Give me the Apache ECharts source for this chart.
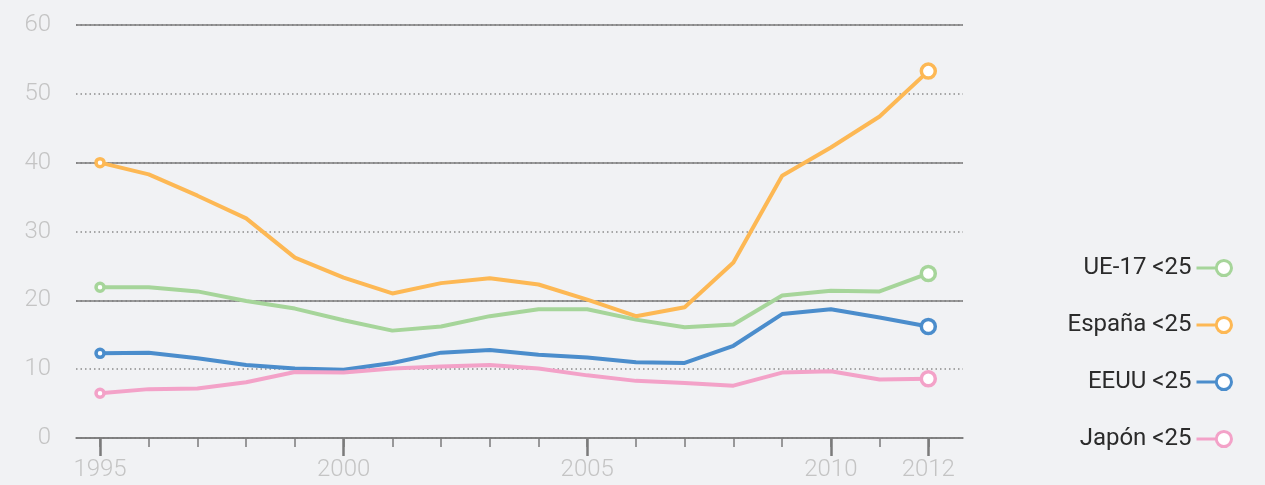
<!DOCTYPE html>
<html>
<head>
<meta charset="utf-8">
<script src="https://cdn.jsdelivr.net/npm/echarts@6/dist/echarts.min.js"></script>
<style>
  html, body { margin: 0; padding: 0; background: #f1f2f4; }
  #chart { width: 1265px; height: 485px; }
</style>
</head>
<body>
<div id="chart"></div>
<script>
// paro juvenil (<25), %
const years = [1995, 1996, 1997, 1998, 1999, 2000, 2001, 2002, 2003, 2004, 2005, 2006, 2007, 2008, 2009, 2010, 2011, 2012];
const yearLabels = [1995, 2000, 2005, 2010, 2012];
const seriesNames = ['UE-17 <25', 'España <25', 'EEUU <25', 'Japón <25'];

const ue17   = [21.9, 21.9, 21.3, 19.9, 18.8, 17.1, 15.6, 16.2, 17.7, 18.7, 18.7, 17.2, 16.1, 16.5, 20.7, 21.4, 21.3, 23.9];
const espana = [40.0, 38.3, 35.2, 31.9, 26.2, 23.3, 21.0, 22.5, 23.2, 22.3, 20.1, 17.7, 19.0, 25.5, 38.1, 42.2, 46.7, 53.3];
const eeuu   = [12.3, 12.4, 11.6, 10.6, 10.1,  9.9, 10.9, 12.4, 12.8, 12.1, 11.7, 11.0, 10.9, 13.4, 18.0, 18.7, 17.5, 16.2];
const japon  = [ 6.5,  7.1,  7.2,  8.1,  9.6,  9.5, 10.1, 10.4, 10.6, 10.1,  9.1,  8.3,  8.0,  7.6,  9.5,  9.7,  8.5,  8.6];

const colors = ['#a6d59a', '#fdb854', '#4b8dcc', '#f3a2c8'];

const chart = echarts.init(document.getElementById('chart'));

const lastIdx = years.length - 1;
function makeSeries(name, values, color) {
  return {
    name: name,
    type: 'line',
    xAxisIndex: 0,
    yAxisIndex: 0,
    data: values.map((v, i) => [years[i], v]),
    symbol: 'circle',
    showAllSymbol: true,
    symbolSize: (val, p) => p.dataIndex === 0 ? 8 : (p.dataIndex === lastIdx ? 14 : 0),
    lineStyle: { color: color, width: 4 },
    itemStyle: { color: '#ffffff', borderColor: color, borderWidth: 3.5 },
    emphasis: { disabled: true },
    animation: false
  };
}

const axisGray = '#7b7b7b';
const labelFont = { fontFamily: 'Roboto', fontWeight: 300, fontSize: 24, color: '#c4c4c4' };

const option = {
  backgroundColor: '#f1f2f4',
  animation: false,
  grid: { left: 76, right: 302, top: 25, bottom: 47 },
  xAxis: [
    {
      type: 'value',
      min: 1994.507,
      max: 2012.712,
      position: 'bottom',
      axisLine: { show: true, lineStyle: { color: axisGray, width: 1.5 } },
      axisTick: { show: true, customValues: years, length: 9, lineStyle: { color: axisGray, width: 1.5 } },
      axisLabel: Object.assign({ customValues: yearLabels, margin: 20, formatter: v => String(v) }, labelFont),
      splitLine: { show: false }
    },
    {
      type: 'value',
      min: 1994.507,
      max: 2012.712,
      position: 'bottom',
      offset: 0,
      axisLine: { show: false },
      axisTick: { show: true, customValues: yearLabels, length: 18, lineStyle: { color: axisGray, width: 2.5 } },
      axisLabel: { show: false },
      splitLine: { show: false }
    }
  ],
  yAxis: [
    {
      type: 'value',
      min: 0,
      max: 60,
      interval: 10,
      axisLine: { show: false },
      axisTick: { show: false },
      axisLabel: Object.assign({ margin: 25 }, labelFont),
      splitLine: { show: true, lineStyle: { color: '#8c8c8c', width: 1.5, type: [1.5, 3] } }
    },
    {
      type: 'value',
      min: 0,
      max: 60,
      interval: 20,
      position: 'left',
      axisLine: { show: false },
      axisTick: { show: false },
      axisLabel: { show: false },
      splitLine: { show: true, lineStyle: { color: axisGray, width: 1.5 } }
    }
  ],
  legend: {
    orient: 'vertical',
    right: 32,
    top: 256,
    padding: 0,
    align: 'right',
    itemWidth: 35,
    itemHeight: 16,
    itemGap: 33,
    selectedMode: false,
    icon: 'path://M0 8 L20 8 M34.5 8 A7.5 7.5 0 1 1 19.5 8 A7.5 7.5 0 1 1 34.5 8 Z',
    textStyle: { fontFamily: 'Roboto', fontSize: 24, lineHeight: 24, color: '#2b2b2b' },
    data: seriesNames.map((n, i) => ({
      name: n,
      itemStyle: { color: '#ffffff', borderColor: colors[i], borderWidth: 3 }
    }))
  },
  series: [
    makeSeries(seriesNames[0], ue17, colors[0]),
    makeSeries(seriesNames[1], espana, colors[1]),
    makeSeries(seriesNames[2], eeuu, colors[2]),
    makeSeries(seriesNames[3], japon, colors[3])
  ]
};

chart.setOption(option);
</script>
</body>
</html>
